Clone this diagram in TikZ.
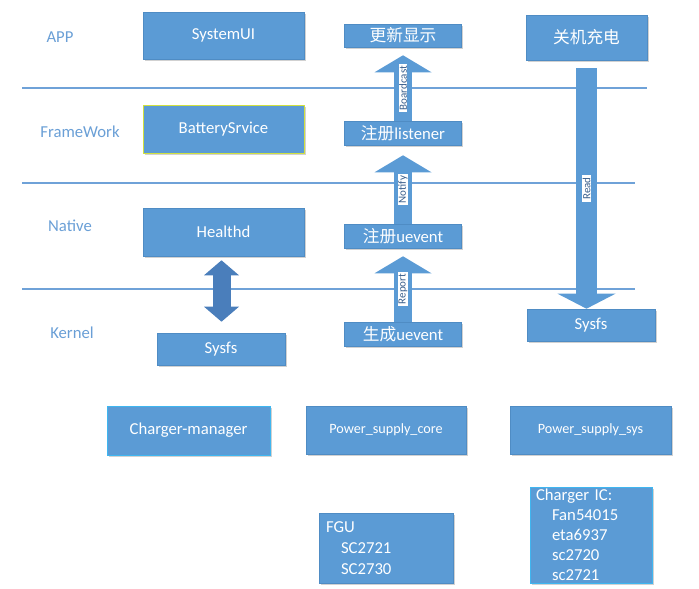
\documentclass[tikz,border=0pt]{standalone}
\usepackage{fontspec}
\setmainfont{Carlito}
\newfontfamily\cjk{Noto Sans CJK SC}
\usetikzlibrary{positioning,arrows.meta,calc,shadows}
\definecolor{boxblue}{HTML}{5B9BD5}
\definecolor{boxedge}{HTML}{4F8CC4}
\definecolor{darkarrow}{HTML}{4A7EBB}
\definecolor{layertext}{HTML}{6A9FD6}
\definecolor{layerline}{HTML}{6FA2D8}
\definecolor{yellowedge}{HTML}{D0E040}
\definecolor{cyanedge}{HTML}{3FB6F0}
\definecolor{lbltext}{HTML}{3A5F8C}

\begin{document}
\begin{tikzpicture}[x=1pt, y=-1pt, on grid,
    box/.style={fill=boxblue, draw=boxedge, line width=0.6pt, text=white, inner sep=0pt,
        font=\fontsize{16.7}{20}\selectfont,
        drop shadow={shadow xshift=1.5pt, shadow yshift=-1.5pt, fill=black, opacity=0.18}},
    smallbox/.style={box, font=\fontsize{14.2}{17}\selectfont},
    listbox/.style={box, align=left, inner xsep=6pt},
    layer/.style={text=layertext, font=\fontsize{16.7}{20}\selectfont},
    layersep/.style={draw=layerline, line width=1.2pt},
    uparr/.style={draw=boxblue, line width=18pt, -{Triangle[width=57pt, length=17pt, line width=0pt]}},
    downarr/.style={draw=boxblue, line width=21pt, -{Triangle[width=58pt, length=15pt, line width=0pt]}},
    dblarr/.style={draw=darkarrow, line width=18pt,
        {Triangle[width=35pt, length=15pt, line width=0pt]}-{Triangle[width=35pt, length=15pt, line width=0pt]}},
    lbl/.style={fill=white, text=lbltext, rotate=90, inner xsep=2pt, inner ysep=0.3pt,
        font=\fontsize{11}{11}\selectfont}]

    \useasboundingbox (0,0) rectangle (699,589);

    % layer separators
    \draw[layersep] (22,88) -- (647,88);
    \draw[layersep] (22,183) -- (635,183);
    \draw[layersep] (22,289) -- (635,289);

    % layer names
    \node[layer] (app) at (60,37) {APP};
    \node[layer] (fw) at (80,132) {FrameWork};
    \node[layer] (nat) at (70,226) {Native};
    \node[layer] (ker) at (72,333) {Kernel};

    % left column
    \node[box, minimum width=161pt, minimum height=47pt] (sysui) at (223.5,35.5) {SystemUI};
    \node[box, draw=yellowedge, minimum width=161pt, minimum height=48pt] (bats) [below=93.5pt of sysui] {BatterySrvice};
    \node[box, minimum width=161pt, minimum height=48pt] (health) [below=103pt of bats] {Healthd};
    \node[box, minimum width=128pt, minimum height=32pt] (ksysfs) at (221,349) {Sysfs};

    % middle column
    \node[box, minimum width=117pt, minimum height=23pt] (upd) at (403,35.5) {\cjk 更新显示};
    \node[box, minimum width=117pt, minimum height=24pt] (reglis) [below=97.5pt of upd] {{\cjk 注册}listener};
    \node[box, minimum width=117pt, minimum height=24pt] (regue) [below=103pt of reglis] {{\cjk 注册}uevent};
    \node[box, minimum width=117pt, minimum height=24pt] (genue) [below=98pt of regue] {{\cjk 生成}uevent};

    % right column
    \node[box, minimum width=121pt, minimum height=45pt] (shut) at (586.5,37.5) {\cjk 关机充电};
    \node[box, minimum width=128pt, minimum height=32pt] (rsysfs) at (591,325) {Sysfs};

    % drivers
    \node[box, draw=cyanedge, minimum width=163pt, minimum height=49pt] (chmgr) at (188.5,430.5) {Charger-manager};
    \node[smallbox, minimum width=160pt, minimum height=48pt] (psc) at (386,430) {Power\_supply\_core};
    \node[smallbox, minimum width=161pt, minimum height=48pt] (pss) at (590.5,430) {Power\_supply\_sys};
    \node[listbox, text width=120pt, minimum height=70pt, inner xsep=7pt,
        font=\fontsize{16.7}{21}\selectfont] (fgu) at (386,548)
        {FGU\\\hspace*{15pt}SC2721\\\hspace*{15pt}SC2730};
    \node[listbox, draw=cyanedge, text width=110pt, minimum height=96pt] (chic) at (591,535)
        {Charger IC:\\\hspace*{16pt}Fan54015\\\hspace*{16pt}eta6937\\\hspace*{16pt}sc2720\\\hspace*{16pt}sc2721};

    % arrows
    \draw[uparr] (reglis.north) -- ($(upd.south)+(0,8)$) node[lbl, midway] {Boardcast};
    \draw[uparr] (regue.north) -- ($(reglis.south)+(0,10)$) node[lbl, midway] {Notify};
    \draw[uparr] (genue.north) -- ($(regue.south)+(0,8)$) node[lbl, midway] {Report};
    \draw[downarr] ($(shut.south)+(0,8)$) -- (shut.south |- rsysfs.north) node[lbl, midway] {Read};
    \draw[dblarr] ($(health.south)+(-2,4)$) -- ($(health.south |- ksysfs.north)+(-2,-11)$);

\end{tikzpicture}
\end{document}
